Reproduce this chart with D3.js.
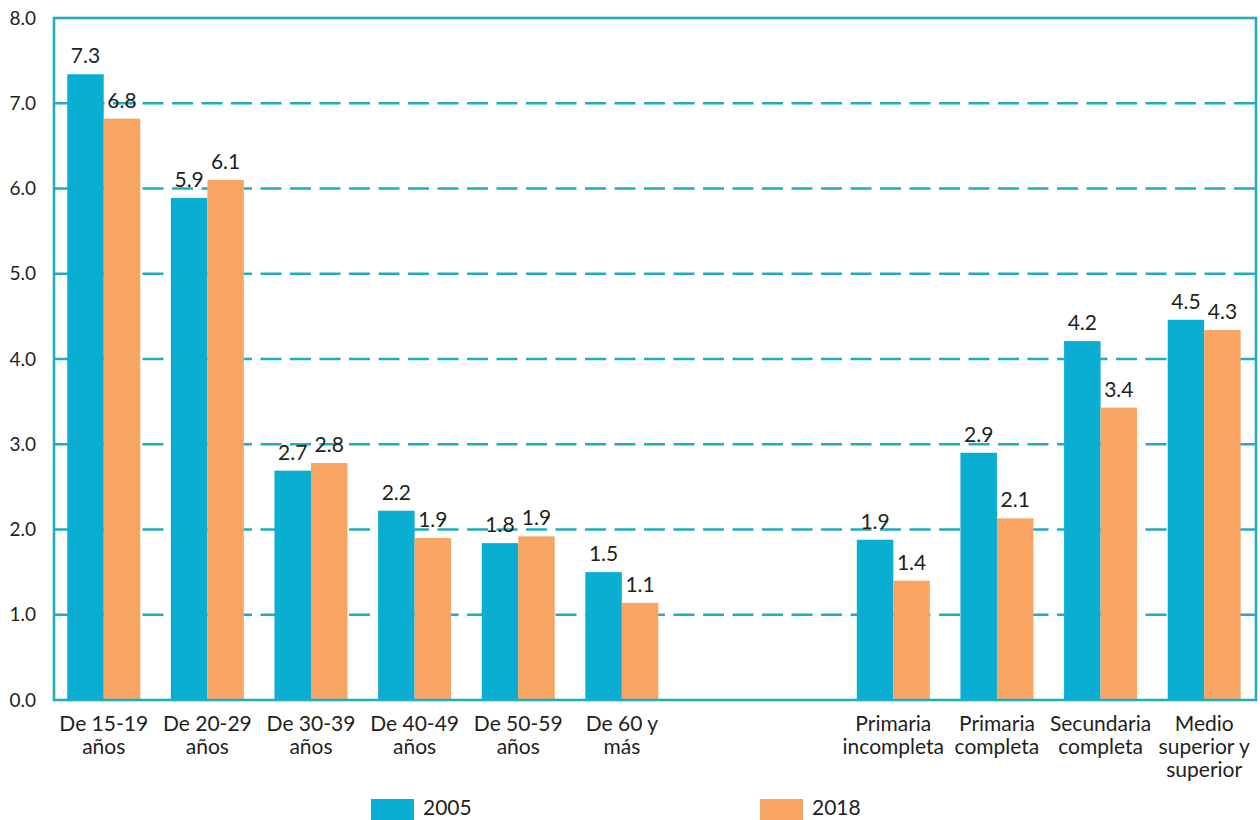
<!DOCTYPE html>
<html>
<head>
<meta charset="utf-8">
<script src="https://cdn.jsdelivr.net/npm/d3@7"></script>
<style>
  body { margin: 0; background: #fff; }
  text { font-family: Lato, "Open Sans", sans-serif; fill: #231f20; }
</style>
</head>
<body>
<div id="chart"></div>
<script>
// data
var categories = [
  "De 15-19|años", "De 20-29|años", "De 30-39|años", "De 40-49|años",
  "De 50-59|años", "De 60 y|más",
  "Primaria|incompleta", "Primaria|completa", "Secundaria|completa",
  "Medio|superior y|superior"
];
var values2005 = [7.34, 5.89, 2.69, 2.22, 1.84, 1.50, 1.88, 2.90, 4.21, 4.46];
var values2018 = [6.82, 6.10, 2.78, 1.90, 1.92, 1.14, 1.40, 2.13, 3.43, 4.34];
var seriesNames = ["2005", "2018"];
var yTicks = [0, 1, 2, 3, 4, 5, 6, 7, 8];

var colors = ["#0aaed3", "#f8a563"];
var teal = "#22adbf";

var svgWidth = 1260;
var svgHeight = 820;
var margin = { top: 18, right: 4, bottom: 120, left: 54 };
var width = svgWidth - margin.left - margin.right;
var height = svgHeight - margin.top - margin.bottom;

var svg = d3.select("#chart")
  .append("svg")
  .attr("width", svgWidth)
  .attr("height", svgHeight);

var chartGroup = svg.append("g")
  .attr("transform", `translate(${margin.left}, ${margin.top})`);

// slot index per category, education groups sit after a wider gap
var gap = 1.62;
var slots = categories.map((c, i) => i + (i >= 6 ? gap : 0));

var xScale = d3.scaleLinear()
  .domain([-0.48, 11.12])
  .range([0, width]);

var yScale = d3.scaleLinear()
  .domain([0, 8])
  .range([height, 0]);

var barWidth = 36.5;

// dashed gridlines
chartGroup.append("g")
  .selectAll("line")
  .data(yTicks.slice(1, -1))
  .enter()
  .append("line")
  .attr("x1", 0)
  .attr("x2", width)
  .attr("y1", d => yScale(d))
  .attr("y2", d => yScale(d))
  .attr("stroke", teal)
  .attr("stroke-width", 2.6)
  .attr("stroke-dasharray", "21,8.5");

// bars
var rows = categories.map((c, i) => ({ slot: slots[i], vals: [values2005[i], values2018[i]] }));

var groups = chartGroup.selectAll(".grp")
  .data(rows)
  .enter()
  .append("g")
  .attr("class", "grp")
  .attr("transform", d => `translate(${xScale(d.slot)}, 0)`);

groups.selectAll("rect")
  .data(d => d.vals)
  .enter()
  .append("rect")
  .attr("x", (d, j) => j === 0 ? -barWidth : 0)
  .attr("y", d => yScale(d))
  .attr("width", barWidth)
  .attr("height", d => height - yScale(d))
  .attr("fill", (d, j) => colors[j]);

// value labels
var fmt = d3.format(".1f");
groups.selectAll("text")
  .data(d => d.vals)
  .enter()
  .append("text")
  .attr("x", (d, j) => j === 0 ? -barWidth / 2 : barWidth / 2)
  .attr("y", d => yScale(d) - 11)
  .attr("text-anchor", "middle")
  .style("font-size", "21px")
  .text(d => fmt(d));

// frame
chartGroup.append("rect")
  .attr("x", 0)
  .attr("y", 0)
  .attr("width", width)
  .attr("height", height)
  .attr("fill", "none")
  .attr("stroke", teal)
  .attr("stroke-width", 2.6);

// y tick labels
chartGroup.append("g")
  .selectAll("text")
  .data(yTicks)
  .enter()
  .append("text")
  .attr("x", -18)
  .attr("y", d => yScale(d))
  .attr("dy", "0.35em")
  .attr("text-anchor", "end")
  .style("font-size", "19px")
  .text(d => fmt(d));

// category labels
var catLabels = chartGroup.append("g")
  .selectAll("text")
  .data(categories)
  .enter()
  .append("text")
  .attr("x", (d, i) => xScale(slots[i]))
  .attr("y", height + 31)
  .attr("text-anchor", "middle")
  .style("font-size", "21px");

catLabels.each(function(d, i) {
  var el = d3.select(this);
  d.split("|").forEach(function(line, k) {
    el.append("tspan")
      .attr("x", xScale(slots[i]))
      .attr("dy", k === 0 ? 0 : 23)
      .text(line);
  });
});

// legend
var legendX = [371, 760];
var legend = svg.append("g");
seriesNames.forEach(function(name, j) {
  legend.append("rect")
    .attr("x", legendX[j])
    .attr("y", 799)
    .attr("width", 43)
    .attr("height", 21)
    .attr("fill", colors[j]);
  legend.append("text")
    .attr("x", legendX[j] + 52)
    .attr("y", 815)
    .style("font-size", "21px")
    .text(name);
});
</script>
</body>
</html>
